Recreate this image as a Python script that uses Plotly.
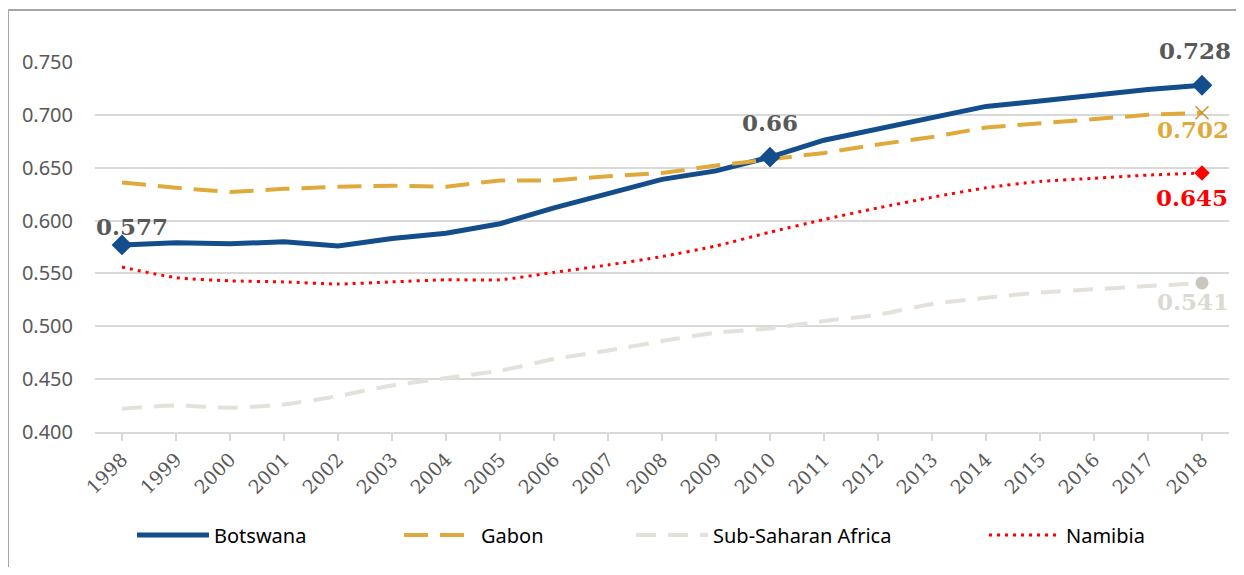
import plotly.graph_objects as go

years = [str(y) for y in range(1998, 2019)]
botswana = [0.577, 0.579, 0.578, 0.580, 0.576, 0.583, 0.588, 0.597, 0.612, 0.625, 0.639,
            0.647, 0.660, 0.676, 0.687, 0.698, 0.708, 0.713, 0.719, 0.724, 0.728]
gabon = [0.636, 0.631, 0.627, 0.630, 0.632, 0.633, 0.632, 0.638, 0.638, 0.642, 0.645,
         0.652, 0.658, 0.664, 0.672, 0.679, 0.688, 0.692, 0.696, 0.700, 0.702]
ssa = [0.422, 0.425, 0.423, 0.426, 0.434, 0.444, 0.451, 0.458, 0.469, 0.477, 0.486,
       0.494, 0.498, 0.505, 0.511, 0.521, 0.527, 0.532, 0.535, 0.538, 0.541]
namibia = [0.556, 0.546, 0.543, 0.542, 0.540, 0.542, 0.544, 0.544, 0.551, 0.558, 0.566,
           0.576, 0.589, 0.601, 0.612, 0.622, 0.631, 0.637, 0.640, 0.643, 0.645]
y_ticks = [0.400, 0.450, 0.500, 0.550, 0.600, 0.650, 0.700, 0.750]

C_BOT = "#144d8c"
C_GAB = "#e0a93b"
C_SSA = "#e4e1da"
C_NAM = "#ff0000"
GREY = "#595959"

OFF = 8  # page body margin
W, H = 1244 - 2 * OFF, 575 - 2 * OFF
L, R, T, B = 95 - OFF, 15 - OFF, 62 - OFF, 143 - OFF
pw, ph = W - L - R, H - T - B


def px(x):
    return (x - OFF - L) / pw


def py(y):
    return (H - B - (y - OFF)) / ph


fig = go.Figure()

fig.add_trace(go.Scatter(x=years, y=botswana, name="Botswana", mode="lines",
                         line=dict(color=C_BOT, width=5), legend="legend"))
fig.add_trace(go.Scatter(x=years, y=gabon, name="Gabon", mode="lines",
                         line=dict(color=C_GAB, width=4, dash="24px,12px"), legend="legend2"))
fig.add_trace(go.Scatter(x=years, y=ssa, name="Sub-Saharan Africa", mode="lines",
                         line=dict(color=C_SSA, width=4, dash="20px,12px", shape="spline", smoothing=0.6),
                         legend="legend3"))
fig.add_trace(go.Scatter(x=years, y=namibia, name="Namibia", mode="lines",
                         line=dict(color=C_NAM, width=3, dash="3px,5px", shape="spline", smoothing=0.6),
                         legend="legend4"))

# markers
idx_b = [0, 12, 20]
fig.add_trace(go.Scatter(x=[years[i] for i in idx_b], y=[botswana[i] for i in idx_b], mode="markers",
                         marker=dict(symbol="diamond", size=16, color=C_BOT), showlegend=False,
                         cliponaxis=False))
fig.add_trace(go.Scatter(x=[years[-1]], y=[gabon[-1]], mode="markers",
                         marker=dict(symbol="x-thin", size=13, line=dict(color="#c99530", width=1.5)),
                         showlegend=False, cliponaxis=False))
fig.add_trace(go.Scatter(x=[years[-1]], y=[namibia[-1]], mode="markers",
                         marker=dict(symbol="diamond", size=12, color=C_NAM), showlegend=False,
                         cliponaxis=False))
fig.add_trace(go.Scatter(x=[years[-1]], y=[ssa[-1]], mode="markers",
                         marker=dict(symbol="circle", size=13, color="#c9c6bf"), showlegend=False,
                         cliponaxis=False))

annots = [
    (0, botswana[0], f"{botswana[0]:.3f}", GREY, 10, 18),
    (12, botswana[12], f"{botswana[12]:.2f}", GREY, 0, 35),
    (20, botswana[-1], f"{botswana[-1]:.3f}", GREY, -7, 35),
    (20, gabon[-1], f"{gabon[-1]:.3f}", C_GAB, -9, -17),
    (20, namibia[-1], f"{namibia[-1]:.3f}", C_NAM, -10, -24),
    (20, ssa[-1], f"{ssa[-1]:.3f}", "#dcd9d2", -9, -19),
]
annotations = []
for xi, yv, t, c, xs, ys in annots:
    annotations.append(dict(x=xi, y=yv, xref="x", yref="y", text="<b>" + t + "</b>", showarrow=False,
                            xshift=xs, yshift=ys,
                            font=dict(family="DejaVu Serif", size=23, color=c)))

shapes = [
    dict(type="line", xref="paper", yref="paper", x0=px(8), x1=px(1236), y0=py(10), y1=py(10),
         line=dict(color="#a6a6a6", width=2)),
    dict(type="line", xref="paper", yref="paper", x0=px(8), x1=px(8), y0=py(10), y1=py(580),
         line=dict(color="#a6a6a6", width=2)),
]

leg_common = dict(orientation="h", yanchor="middle", xanchor="left", bgcolor="rgba(0,0,0,0)",
                  font=dict(family="Noto Sans", size=20, color="#000000"), itemwidth=72)
legend_x = [132, 399, 631, 984]
fig.update_layout(
    width=W, height=H,
    margin=dict(l=L, r=R, t=T, b=B),
    paper_bgcolor="white", plot_bgcolor="white",
    showlegend=True,
    annotations=annotations,
    shapes=shapes,
    legend=dict(x=px(legend_x[0]), y=py(535), **leg_common),
    legend2=dict(x=px(legend_x[1]), y=py(535), **leg_common),
    legend3=dict(x=px(legend_x[2]), y=py(535), **leg_common),
    legend4=dict(x=px(legend_x[3]), y=py(535), **leg_common),
    xaxis=dict(type="category", tickangle=-45, showgrid=False, showline=True,
               linecolor="#d9d9d9", linewidth=2, ticks="outside", ticklen=7, tickcolor="#d9d9d9",
               tickwidth=1.5, tickfont=dict(family="DejaVu Serif", size=19, color=GREY),
               range=[-0.5, 20.5]),
    yaxis=dict(range=[0.4, 0.75], tickvals=y_ticks, tickformat=".3f", showgrid=True,
               gridcolor="#d9d9d9", gridwidth=1.5, zeroline=False, showline=False,
               tickfont=dict(family="Noto Sans", size=20, color=GREY), ticklabelstandoff=21),
)

fig.write_html("out.html")
